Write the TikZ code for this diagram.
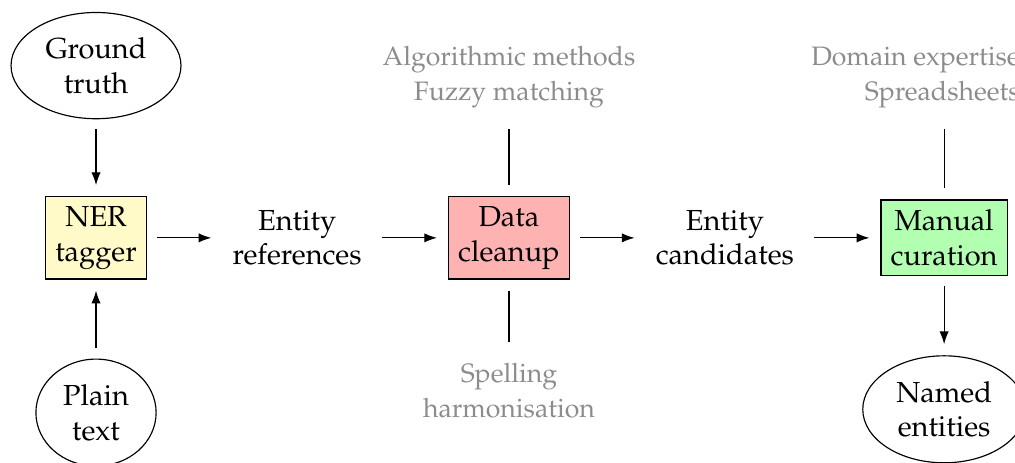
\documentclass[tikz,border=0pt]{standalone}
\usepackage[T1]{fontenc}
\usepackage{mathpazo}
\usepackage{xcolor}
\usetikzlibrary{shapes.geometric,arrows.meta}

\definecolor{nerfill}{RGB}{255,250,200}
\definecolor{cleanfill}{RGB}{255,178,178}
\definecolor{curefill}{RGB}{178,255,178}

\begin{document}
\begin{tikzpicture}[
	stage/.style={draw, align=center},
	source/.style={draw, ellipse, align=center},
	info/.style={align=center},
	aside/.style={align=center, text=black!45, font=\fontsize{9.2}{12}\selectfont},
	flow/.style={-{Latex[length=4.4pt,width=3.2pt]}, shorten <=3.5pt, shorten >=3.8pt},
	tie/.style={shorten <=3.8pt, shorten >=3.8pt}
	]
	\useasboundingbox (-1.165,-2.728) rectangle (11.15,2.886);

	\node[stage, fill=nerfill] (ner) at (0,0) {NER\\tagger};
	\node[source] (truth) at (0,2.09) {Ground\\truth};
	\node[source] (plain) at (0,-2.12) {Plain\\text};

	\node[info] (refs) at (2.44,0) {Entity\\references};
	\node[stage, fill=cleanfill] (cleanup) at (5.01,0) {Data\\cleanup};
	\node[aside] (methods) at (5.01,1.95) {Algorithmic methods\\Fuzzy matching};
	\node[aside] (spelling) at (5.01,-1.85) {Spelling\\harmonisation};

	\node[info] (cands) at (7.63,0) {Entity\\candidates};
	\node[stage, fill=curefill] (curation) at (10.29,0) {Manual\\curation};
	\node[aside, align=right, anchor=east] (expertise) at (11.33,1.95) {Domain expertise\\Spreadsheets};
	\node[source] (named) at (10.29,-2.08) {Named\\entities};

	\draw[flow] (truth) -- (ner);
	\draw[flow] (plain) -- (ner);
	\draw[flow] (ner) -- (refs);
	\draw[flow] (refs) -- (cleanup);
	\draw[flow] (cleanup) -- (cands);
	\draw[flow] (cands) -- (curation);
	\draw[flow] (curation) -- (named);

	\draw[tie] (methods) -- (cleanup);
	\draw[tie] (spelling) -- (cleanup);
	\draw[tie] (expertise.south -| curation) -- (curation);
\end{tikzpicture}
\end{document}
